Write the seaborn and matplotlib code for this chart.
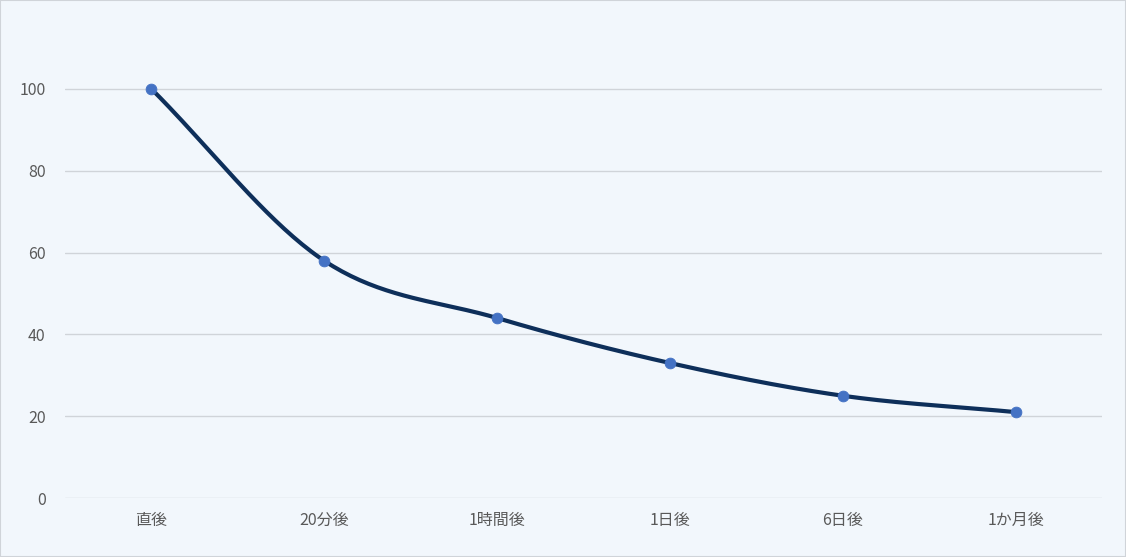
import numpy as np
import matplotlib
matplotlib.use("Agg")
import matplotlib.pyplot as plt
import seaborn as sns

categories = ["直後", "20分後", "1時間後", "1日後", "6日後", "1か月後"]
values = [100, 58, 44, 33, 25, 21]

sns.set_style("white")
plt.rcParams['font.family'] = ['Noto Sans CJK JP', 'DejaVu Sans']

bg = "#F2F7FC"
fig = plt.figure(figsize=(11.26, 5.57), dpi=100, facecolor=bg)
ax = fig.add_axes([0.0577, 0.1059, 0.921, 0.874], facecolor=bg)

# Catmull-Rom smoothing (like Excel smoothed line)
x = np.arange(len(values), dtype=float)
y = np.array(values, dtype=float)
px = np.concatenate([[2*x[0]-x[1]], x, [2*x[-1]-x[-2]]])
py = np.concatenate([[2*y[0]-y[1]], y, [2*y[-1]-y[-2]]])
sx, sy = [], []
t = np.linspace(0, 1, 40)
for i in range(1, len(px)-2):
    for P, out in ((px, sx), (py, sy)):
        p0, p1, p2, p3 = P[i-1], P[i], P[i+1], P[i+2]
        out.extend(0.5*((2*p1) + (-p0+p2)*t + (2*p0-5*p1+4*p2-p3)*t**2 + (-p0+3*p1-3*p2+p3)*t**3))
sns.lineplot(x=sx, y=sy, ax=ax, color="#0E2F5A", linewidth=3, sort=False, zorder=3)
sns.scatterplot(x=x, y=y, ax=ax, color="#4472C4", s=60, edgecolor="#4472C4", zorder=4)

ax.set_xlim(-0.5, 5.5)
ax.set_ylim(0, 119)
ax.set_yticks([0, 20, 40, 60, 80, 100])
ax.set_xticks(x)
ax.set_xticklabels(categories)
ax.grid(axis="y", color="#D0D4D9", linewidth=1)
ax.set_axisbelow(True)
for s in ax.spines.values():
    s.set_visible(False)
ax.tick_params(axis="both", length=0, labelsize=11.5, colors="#595959", pad=10)
ax.tick_params(axis="y", pad=14)
fig.patches.append(plt.Rectangle((0, 0), 1, 1, transform=fig.transFigure,
                                 fill=False, edgecolor="#D0D4D9", linewidth=1.5))
fig.savefig("out.png", dpi=100, facecolor=bg)
